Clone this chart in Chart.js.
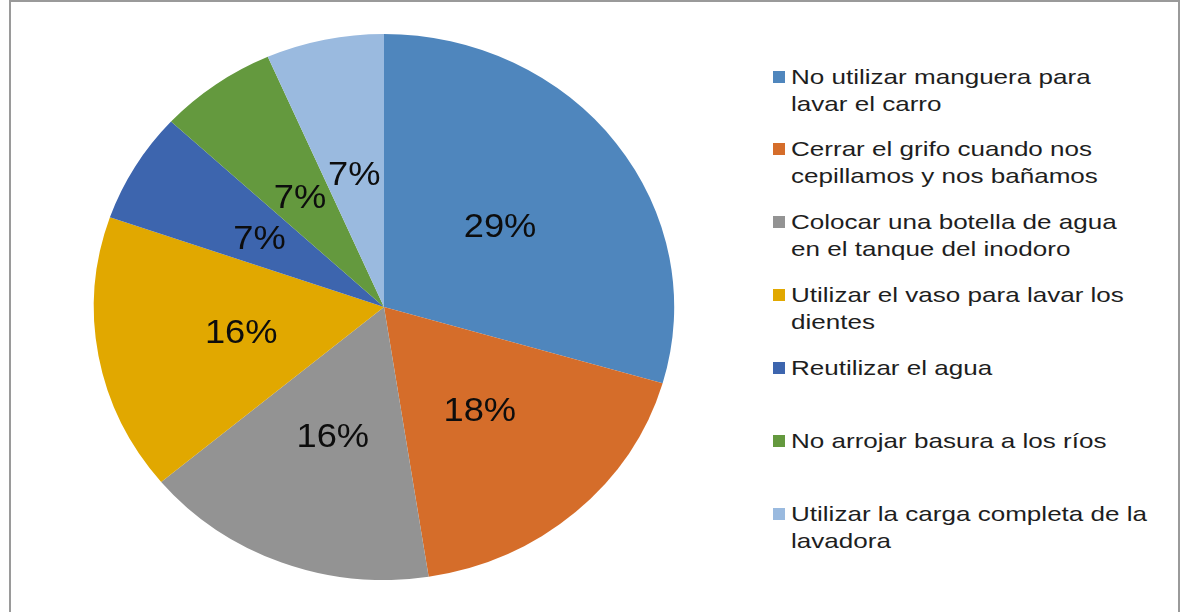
<!DOCTYPE html>
<html>
<head>
<meta charset="utf-8">
<script src="https://cdn.jsdelivr.net/npm/chart.js@4.4.1/dist/chart.umd.min.js"></script>
<style>
  body { margin: 0; background: #fff; width: 1180px; height: 612px; overflow: hidden; position: relative; }
  #frame { position: absolute; left: 9px; top: 0; width: 1167px; height: 640px; border: 2px solid #9a9a9a; }
  #pie { position: absolute; left: 84px; top: 34px; }
  #legend { position: absolute; left: 773px; top: 0; font-family: "Liberation Sans", Arial, sans-serif; font-size: 21px; line-height: 27px; color: #1e1e1e; }
  .item { position: absolute; left: 0; white-space: nowrap; }
  .box { position: absolute; left: 0; top: 8px; width: 12px; height: 12px; }
  .txt { position: absolute; left: 18px; top: 0; transform: scaleX(1.24); transform-origin: left top; }
</style>
</head>
<body>
<div id="frame"></div>
<canvas id="pie" width="600" height="546"></canvas>
<div id="legend"></div>
<script>
// --- données ---
const categories = [
    ['No utilizar manguera para', 'lavar el carro'],
    ['Cerrar el grifo cuando nos', 'cepillamos y nos bañamos'],
    ['Colocar una botella de agua', 'en el tanque del inodoro'],
    ['Utilizar el vaso para lavar los', 'dientes'],
    ['Reutilizar el agua'],
    ['No arrojar basura a los ríos'],
    ['Utilizar la carga completa de la', 'lavadora']
];
const values = [18, 11, 10, 10, 4, 4, 4];
// étiquettes affichées sur le graphique
const pctLabels = ['29%', '18%', '16%', '16%', '7%', '7%', '7%'];
const colors = ['#4f86bd', '#d56d2a', '#939393', '#e1a800', '#3d65ae', '#64993e', '#9abadf'];

const PIE_SX = 1.063;   // pie is a bit wider than tall in the picture
const LABEL_SX = 1.1;

// --- étirement horizontal du camembert ---
const stretchPlugin = {
    id: 'stretch',
    beforeDatasetsDraw(chart) {
        const arc = chart.getDatasetMeta(0).data[0];
        const ctx = chart.ctx;
        ctx.save();
        ctx.translate(arc.x, 0);
        ctx.scale(PIE_SX, 1);
        ctx.translate(-arc.x, 0);
    },
    afterDatasetsDraw(chart) {
        chart.ctx.restore();
    }
};

// --- étiquettes de pourcentage ---
const labelPlugin = {
    id: 'pctLabels',
    afterDraw(chart) {
        const ctx = chart.ctx;
        const fontSize = 33;
        chart.getDatasetMeta(0).data.forEach((arc, i) => {
            const p = arc.tooltipPosition();
            const x = arc.x + (p.x - arc.x) * PIE_SX;
            ctx.save();
            ctx.translate(x, p.y + fontSize * 0.358);
            ctx.scale(LABEL_SX, 1);
            ctx.font = fontSize + 'px "Liberation Sans", Arial, sans-serif';
            ctx.fillStyle = '#0d0d0d';
            ctx.textAlign = 'center';
            ctx.textBaseline = 'alphabetic';
            ctx.fillText(pctLabels[i], 0, 0);
            ctx.restore();
        });
    }
};

new Chart(document.getElementById('pie'), {
    type: 'pie',
    data: {
        labels: categories,
        datasets: [{
            data: values,
            backgroundColor: colors,
            borderWidth: 0,
            hoverOffset: 0
        }]
    },
    options: {
        responsive: false,
        animation: false,
        events: [],
        layout: { padding: 0 },
        plugins: {
            legend: { display: false },
            tooltip: { enabled: false }
        }
    },
    plugins: [stretchPlugin, labelPlugin]
});

// --- légende ---
const legend = document.getElementById('legend');
categories.forEach((lines, i) => {
    const item = document.createElement('div');
    item.className = 'item';
    item.style.top = (62.5 + i * 72.9) + 'px';
    const box = document.createElement('div');
    box.className = 'box';
    box.style.background = colors[i];
    const txt = document.createElement('div');
    txt.className = 'txt';
    txt.innerHTML = lines.join('<br>');
    item.appendChild(box);
    item.appendChild(txt);
    legend.appendChild(item);
});
</script>
</body>
</html>
